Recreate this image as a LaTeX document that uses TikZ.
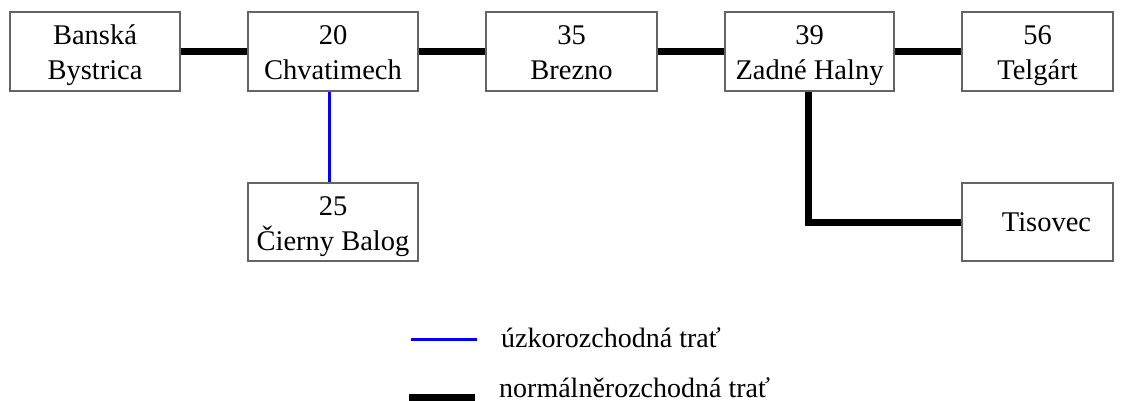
\documentclass[tikz,border=0pt]{standalone}
\usepackage{fontspec}
\setmainfont{Liberation Serif}
\definecolor{boxgray}{RGB}{100,100,100}
\definecolor{narrowblue}{RGB}{0,0,255}
\tikzset{
  station/.style={draw=boxgray, line width=1.2pt, rectangle, minimum height=79pt,
    inner sep=0pt, align=center, font=\fontsize{28.5}{35}\selectfont,
    text height=64pt, text depth=7pt},
  stationone/.style={draw=boxgray, line width=1.2pt, rectangle, minimum height=78pt,
    inner sep=0pt, align=center, font=\fontsize{28.5}{35}\selectfont},
  normal/.style={line width=7pt, black, line join=miter},
  narrow/.style={line width=3pt, narrowblue},
  legendtext/.style={anchor=base west, inner sep=0pt, font=\fontsize{28}{34}\selectfont}
}
\begin{document}
\begin{tikzpicture}[x=1pt,y=-1pt]
\useasboundingbox (0,0) rectangle (1122,401);
\node[station, minimum width=170pt] (bb) at (95,51.5) {Banská\\Bystrica};
\node[station, minimum width=170pt] (ch) at (333,51.5) {20\\Chvatimech};
\node[station, minimum width=171pt] (br) at (571.5,51.5) {35\\Brezno};
\node[station, minimum width=169pt] (zh) at (809.5,51.5) {39\\Zadné Halny};
\node[station, minimum width=151pt] (te) at (1037.5,51.5) {56\\Telgárt};
\node[station, minimum width=170pt, minimum height=78pt] (cb) at (333,222) {25\\Čierny Balog};
\node[stationone, minimum width=151pt] (ti) at (1037.5,222) {\hspace*{18pt}Tisovec};

\draw[normal] (bb.east) -- (ch.west);
\draw[normal] (ch.east) -- (br.west);
\draw[normal] (br.east) -- (zh.west);
\draw[normal] (zh.east) -- (te.west);
\draw[narrow] ([xshift=-4pt]ch.south) -- ([xshift=-4pt]cb.north);
\draw[normal] ([xshift=-1.5pt]zh.south) |- (ti.west);

\coordinate (l1a) at (411,339);
\coordinate (l1b) at (477,339);
\coordinate (l2a) at (409,397);
\coordinate (l2b) at (475,397);
\draw[narrow] (l1a) -- (l1b);
\draw[normal] (l2a) -- (l2b);
\node[legendtext] (t1) at (501,347) {úzkorozchodná trať};
\node[legendtext] (t2) at (499,397) {normálněrozchodná trať};
\end{tikzpicture}
\end{document}
